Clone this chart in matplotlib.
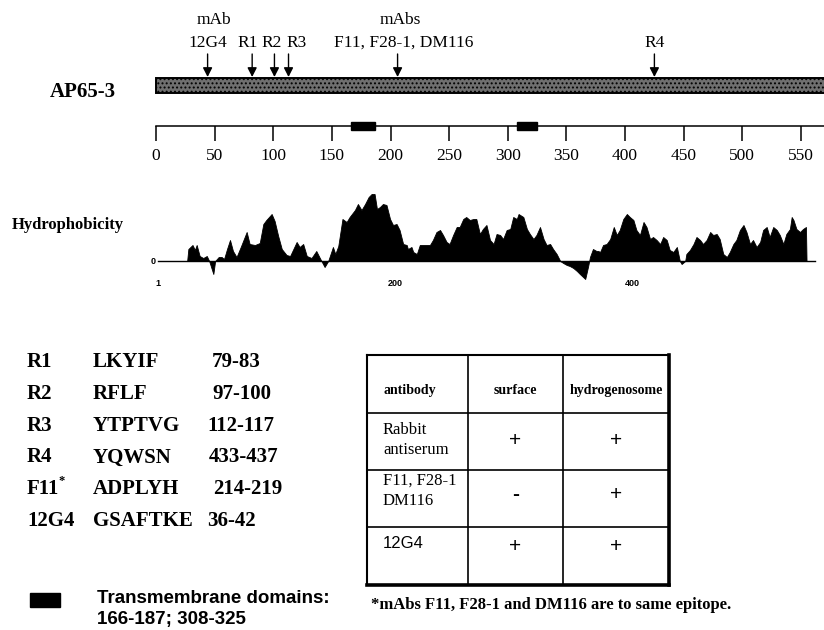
import matplotlib
matplotlib.use('Agg')
import matplotlib.pyplot as plt
from matplotlib.patches import Rectangle

plt.rcParams['font.family'] = 'serif'
plt.rcParams['font.serif'] = ['Liberation Serif']
plt.rcParams['hatch.linewidth'] = 0.9

# --- protein map (residue numbers) ---
protein_name = 'AP65-3'
protein_end = 600          # bar runs off the right edge of the figure
scale_ticks = list(range(0, 551, 50))
tm_domains = [(166, 187), (308, 325)]
arrow_res = [44, 82, 101, 113, 206, 425]
arrow_text = ['12G4', 'R1', 'R2', 'R3', 'F11, F28-1, DM116', 'R4']
text_res = [44, 78, 99, 120, 211, 425]
group_text = ['mAb', 'mAbs']
group_res = [49, 208]

# --- hydrophobicity profile (residue, relative value) ---
hyd_res = [1, 25.5, 26.5, 30, 32, 33.5, 36, 39, 42, 44,
           47.5, 49, 52, 54.5, 56.5, 59, 61.5, 64, 67, 70.5,
           75.5, 78, 82.5, 86.5, 89.5, 92, 96.5, 99, 102, 105,
           109, 112, 117.5, 120, 123, 126, 130, 134, 137, 141,
           144, 148, 150, 152.5, 156, 159.5, 162, 166.5, 169, 172,
           175, 178, 180.5, 183, 185, 187.5, 190, 193, 196, 198.5,
           201.5, 204, 207, 210, 211, 214, 215.5, 218.5, 221, 227,
           229.5, 232, 235, 238, 240.5, 243.5, 246, 249, 252, 254.5,
           257.5, 260, 263, 266, 268.5, 271.5, 274, 277, 280, 283,
           285.5, 288.5, 291, 294, 297, 299.5, 302.5, 304, 308, 311,
           313.5, 316.5, 319, 322, 325, 327.5, 330.5, 333, 336, 339,
           341.5, 344.5, 347, 350, 353, 355.5, 360, 362.5, 364, 366.5,
           369.5, 371, 372.5, 375, 378, 381, 384, 386.5, 389, 392,
           395, 397.5, 400.5, 403, 406, 409, 411.5, 414.5, 417, 420,
           423, 425.5, 428.5, 431, 434, 437, 439.5, 441, 444, 445,
           448, 451, 453.5, 456.5, 459, 462, 465, 467.5, 470.5, 473,
           476, 479, 481.5, 484.5, 487, 490, 493, 495.5, 498.5, 501,
           504, 507, 509.5, 512.5, 515, 518, 521, 523.5, 526.5, 529,
           532, 533.5, 535, 537.5, 540.5, 543, 545.5, 546]
hyd_val = [0, 0, 12, 16, 11, 16, 5, 3, 5, 0,
           -13, 0, 4, 4, 2, 12, 21, 10, 4, 14,
           29, 17, 16, 18, 37, 41, 47, 40, 25, 12,
           6, 5, 19, 14, 17, 5, 3, 10, 3, -6,
           0, 14, 7, 15, 42, 39, 44, 51, 57, 51,
           57, 64, 67, 67, 52, 54, 57, 56, 42, 36,
           37, 31, 17, 16, 12, 14, 9, 7, 16, 16,
           16, 21, 29, 31, 26, 19, 17, 26, 34, 34,
           42, 44, 41, 42, 42, 27, 32, 36, 21, 17,
           27, 26, 22, 31, 32, 44, 42, 47, 44, 32,
           27, 22, 26, 34, 22, 16, 17, 12, 7, 0,
           -2, -4, -5, -7, -10, -13, -18, -5, 4, 12,
           10, 10, 9, 16, 17, 22, 34, 26, 31, 42,
           47, 44, 41, 31, 26, 39, 34, 22, 24, 21,
           17, 24, 21, 11, 9, 14, 0, -3, 0, 7,
           11, 17, 24, 21, 17, 21, 29, 26, 27, 22,
           7, 4, 9, 17, 21, 31, 36, 29, 17, 21,
           14, 19, 31, 34, 24, 34, 31, 26, 17, 27,
           32, 44, 41, 32, 29, 32, 34, 0]
hyd_axis = (1, 553)
hyd_ticks = [1, 200, 400]

# --- epitope list ---
epi_names = ['R1', 'R2', 'R3', 'R4', 'F11', '12G4']
epi_seqs = ['LKYIF', 'RFLF', 'YTPTVG', 'YQWSN', 'ADPLYH', 'GSAFTKE']
epi_ranges = ['79-83', '97-100', '112-117', '433-437', '214-219', '36-42']

# --- localisation table ---
tab_cols = ['antibody', 'surface', 'hydrogenosome']
tab_antibody = ['Rabbit\nantiserum', 'F11, F28-1\nDM116', '12G4']
tab_surface = ['+', '-', '+']
tab_hydro = ['+', '+', '+']
footnote = '*mAbs F11, F28-1 and DM116 are to same epitope.'

W, H = 824, 630
fig = plt.figure(figsize=(W / 100, H / 100), dpi=100)


def px_axes(x, y, w, h):
    return fig.add_axes([x / W, 1 - (y + h) / H, w / W, h / H])


page = px_axes(0, 0, W, H)
page.set_xlim(0, W)
page.set_ylim(H, 0)
page.axis('off')

# protein bar + scale
ppr = 1.1727
ax_map = px_axes(150, 0, 674, 175)
ax_map.set_xlim(-6 / ppr, 668 / ppr)
ax_map.set_ylim(175, 0)
ax_map.patch.set_alpha(0)
ax_map.add_patch(Rectangle((0, 78), protein_end, 15, facecolor='#6f6f6f',
                           edgecolor='black', hatch='....', lw=1.4))
for a, b in tm_domains:
    ax_map.add_patch(Rectangle((a, 122), b - a, 8, color='black', zorder=3, clip_on=False))
for r in arrow_res:
    ax_map.annotate('', xy=(r, 77), xytext=(r, 54),
                    arrowprops=dict(arrowstyle='-|>,head_length=0.55,head_width=0.28',
                                    color='black', lw=1, shrinkA=0, shrinkB=0))
for r, t in zip(text_res, arrow_text):
    ax_map.text(r, 43, t, ha='center', va='center', fontsize=12.5)
for r, t in zip(group_res, group_text):
    ax_map.text(r, 20, t, ha='center', va='center', fontsize=12.5)
for s in ['top', 'left', 'right']:
    ax_map.spines[s].set_visible(False)
ax_map.spines['bottom'].set_position(('data', 126))
ax_map.spines['bottom'].set_bounds(0, protein_end)
ax_map.spines['bottom'].set_linewidth(1.1)
ax_map.set_xticks(scale_ticks)
ax_map.set_yticks([])
ax_map.tick_params(axis='x', direction='out', length=10.5, width=1.1, pad=5, labelsize=12.5)
page.text(83, 92, protein_name, ha='center', va='center', fontsize=15, fontweight='bold')

# hydrophobicity plot
ax_hyd = px_axes(150, 185, 674, 110)
ax_hyd.set_xlim(1 - 8 / 1.19, 1 + 666 / 1.19)
ax_hyd.set_ylim(-34, 76)
ax_hyd.patch.set_alpha(0)
ax_hyd.fill_between(hyd_res, hyd_val, 0, color='black', lw=0.6)
ax_hyd.plot(hyd_axis, [0, 0], color='black', lw=1)
for s in ['top', 'right']:
    ax_hyd.spines[s].set_visible(False)
ax_hyd.spines['left'].set_position(('data', 0))
ax_hyd.spines['left'].set_visible(False)
ax_hyd.spines['bottom'].set_position(('data', -17))
ax_hyd.spines['bottom'].set_visible(False)
ax_hyd.set_xticks(hyd_ticks)
ax_hyd.set_yticks([0])
ax_hyd.tick_params(length=0, pad=1, labelsize=6.5)
for lab in ax_hyd.get_xticklabels() + ax_hyd.get_yticklabels():
    lab.set_fontfamily('Liberation Sans')
    lab.set_fontweight('bold')
page.text(12, 225, 'Hydrophobicity', ha='left', va='center', fontsize=12, fontweight='bold')

# epitope list
range_x = [212, 212, 207, 209, 213, 207]
for i, (n, s, r) in enumerate(zip(epi_names, epi_seqs, epi_ranges)):
    y = 362 + i * 31.8
    page.text(27, y, n, ha='left', va='center', fontsize=15, fontweight='bold')
    page.text(93, y, s, ha='left', va='center', fontsize=15, fontweight='bold')
    page.text(range_x[i], y, r, ha='left', va='center', fontsize=15, fontweight='bold')
page.text(58, 362 + 4 * 31.8 - 8, '*', ha='left', va='center', fontsize=9, fontweight='bold')

page.add_patch(Rectangle((30, 593), 30, 14, color='black'))
tm_text = 'Transmembrane domains:\n' + '; '.join(f'{a}-{b}' for a, b in tm_domains)
page.text(97, 609, tm_text, ha='left', va='center', fontsize=13.5, fontweight='bold',
          family='Liberation Sans', linespacing=1.25)

# table
col_w = [101, 95, 106]
row_h = [58, 57, 57, 58]
ax_tab = px_axes(367, 355, 302, 230)
ax_tab.set_xlim(0, sum(col_w))
ax_tab.set_ylim(sum(row_h), 0)
ax_tab.set_xticks([])
ax_tab.set_yticks([])
xs = [sum(col_w[:i]) for i in range(4)]
ys = [sum(row_h[:i]) for i in range(5)]
ax_tab.vlines(xs[1:3], 0, ys[-1], color='black', lw=1.2)
ax_tab.hlines(ys[1:4], 0, xs[-1], color='black', lw=1.2)
for s, lw in zip(['left', 'top', 'right', 'bottom'], [1.5, 1.5, 2.6, 2.6]):
    ax_tab.spines[s].set_linewidth(lw)
xc = [(xs[i] + xs[i + 1]) / 2 for i in range(3)]
ax_tab.text(16, 35, tab_cols[0], ha='left', va='center', fontsize=10, fontweight='bold')
ax_tab.text(xc[1], 35, tab_cols[1], ha='center', va='center', fontsize=10, fontweight='bold')
ax_tab.text(xc[2], 35, tab_cols[2], ha='center', va='center', fontsize=10, fontweight='bold')
text_dy = [27, 21, 16]
sign_dy = [27, 25, 20]
for i in range(3):
    top = ys[i + 1]
    fam = 'Liberation Sans' if tab_antibody[i][0].isdigit() else 'Liberation Serif'
    ax_tab.text(16, top + text_dy[i], tab_antibody[i], ha='left', va='center', fontsize=12,
                family=fam, linespacing=1.4)
    ax_tab.text(xc[1], top + sign_dy[i], tab_surface[i], ha='center', va='center', fontsize=15,
                family='Liberation Sans', fontweight='bold' if tab_surface[i] == '-' else 'normal')
    ax_tab.text(xc[2], top + sign_dy[i], tab_hydro[i], ha='center', va='center', fontsize=15,
                family='Liberation Sans')
page.text(371, 605, footnote, ha='left', va='center', fontsize=12, fontweight='bold')

fig.savefig('out.png', dpi=100)
